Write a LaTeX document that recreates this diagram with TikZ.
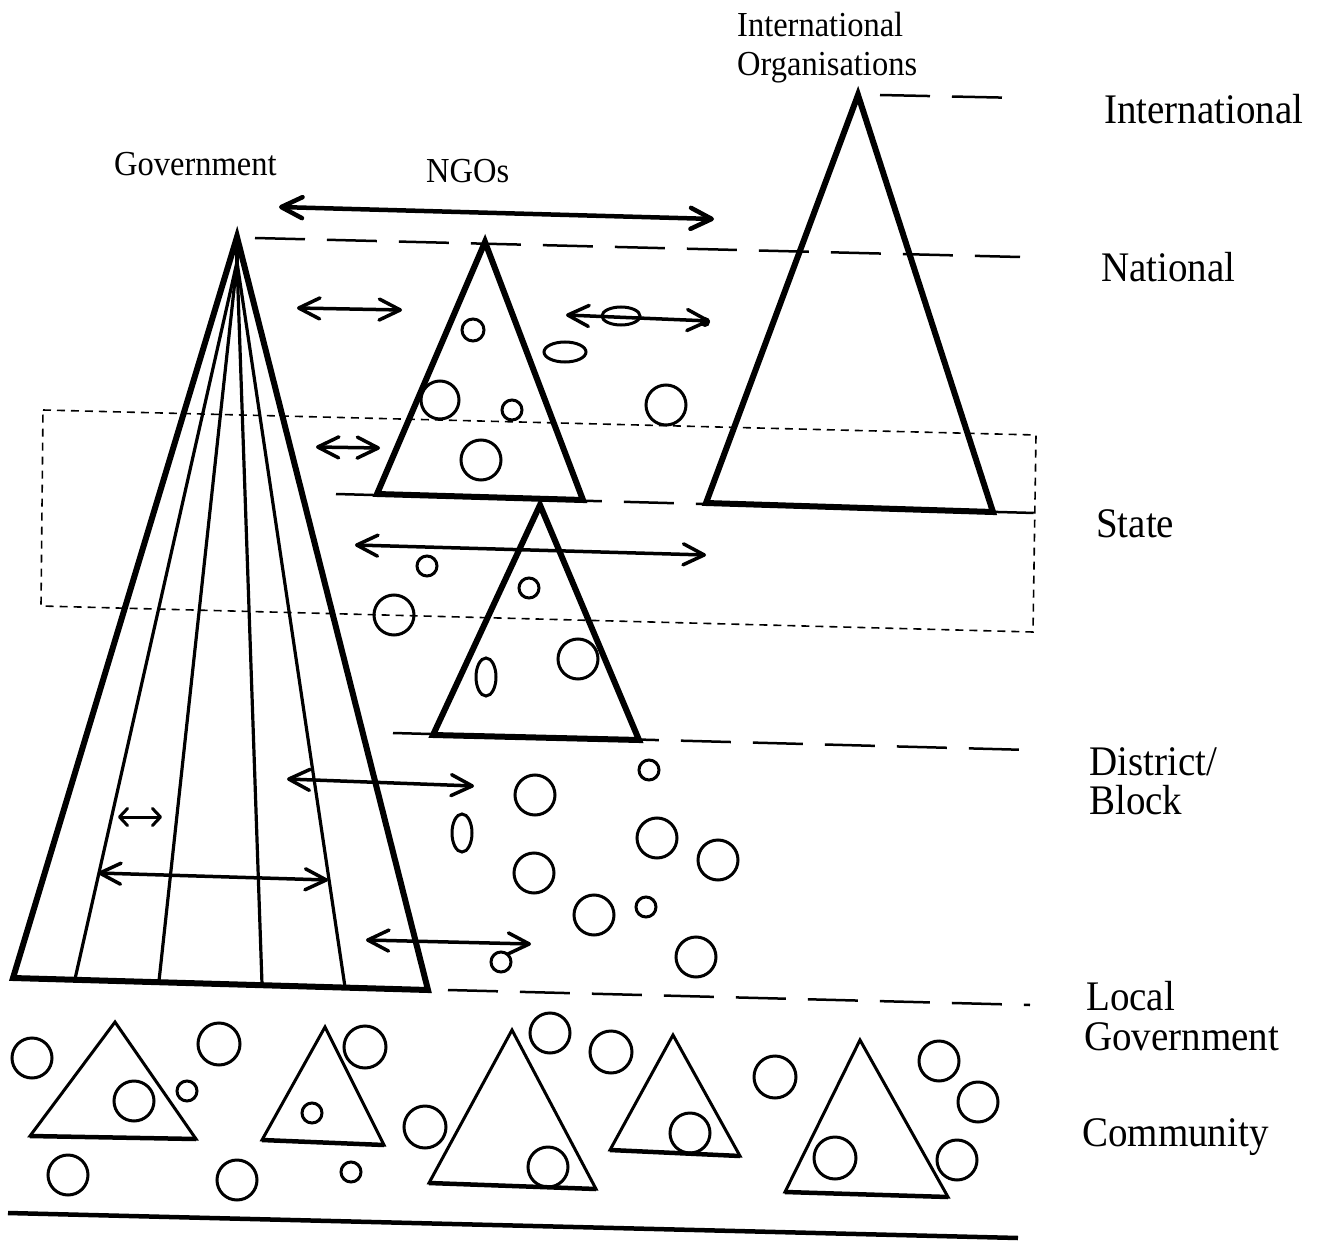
\documentclass[tikz,border=0pt]{standalone}
\usepackage{fontspec}
\setmainfont{Liberation Serif}
\usetikzlibrary{arrows.meta}

\tikzset{
  heavy/.style={line width=6pt, line join=miter, miter limit=6},
  rib/.style={line width=3.2pt},
  small tri/.style={line width=3pt, line join=miter, miter limit=6},
  tri base/.style={line width=4.5pt},
  bub/.style={line width=3pt},
  barb/.tip={Straight Barb[length=21pt,width=21pt,line cap=round,line join=round]},
  tinybarb/.tip={Straight Barb[length=8pt,width=17pt,line cap=round,line join=round]},
  link/.style={line width=3.5pt, line cap=round, {barb}-{barb}},
  biglink/.style={line width=4.5pt, line cap=round, {barb}-{barb}},
  tinylink/.style={line width=3pt, line cap=round, {tinybarb}-{tinybarb}},
  tier/.style={line width=2.5pt, dash pattern=on 50pt off 22pt},
  band/.style={line width=1.6pt, dash pattern=on 8pt off 6pt},
  groundline/.style={line width=4.5pt},
  actor/.style={font=\fontsize{32.5}{40}\selectfont, anchor=base west, inner sep=0pt},
  tierlabel/.style={font=\fontsize{39}{40}\selectfont, anchor=base west, inner sep=0pt},
}

\newcommand{\tall}[1]{\scalebox{1}[1.08]{#1}}

\begin{document}
\begin{tikzpicture}[x=1pt,y=-1pt]
\useasboundingbox (0,0) rectangle (1323,1241);

% ---- tier boundaries ----
\draw[tier] (880,95) -- (1022,98);
\draw[tier] (255,238) -- (1020,257);
\draw[tier] (336,494) -- (1035,513);
\draw[tier] (393,733) -- (1030,750);
\draw[tier] (448,990) -- (1030,1005);
\draw[groundline] (8,1213) -- (1018,1238);

% ---- state band ----
\draw[band] (43,410) -- (1036,435) -- (1033,632) -- (41,606) -- cycle;

% ---- government pyramid ----
\coordinate (gapex) at (237,237);
\coordinate (gfan) at (237,262);
\draw[rib] (gfan) -- (75,979);
\draw[rib] (gfan) -- (159,981);
\draw[rib] (gfan) -- (262,984);
\draw[rib] (gfan) -- (345,987);
\draw[rib] (gapex) -- (gfan);
\draw[heavy] (gapex) -- (13,978) -- (428,990) -- cycle;

% ---- NGO pyramids ----
\draw[heavy] (485,242) -- (377,494) -- (583,500) -- cycle;
\draw[heavy] (540,505) -- (433,735) -- (639,740) -- cycle;

% ---- international organisations ----
\draw[heavy] (858,95) -- (706,503) -- (993,512) -- cycle;

% ---- NGO bubbles, national and state ----
\draw[bub] (473,330) circle[radius=11];
\draw[bub] (440,400) circle[radius=19];
\draw[bub] (512,410) circle[radius=10];
\draw[bub] (481,460) circle[radius=20];
\draw[bub] (565,352) ellipse[x radius=21,y radius=10];
\draw[bub] (666,405) circle[radius=20];
\draw[bub] (529,588) circle[radius=10];
\draw[bub] (486,677) ellipse[x radius=10,y radius=19];
\draw[bub] (578,659) circle[radius=20];
\draw[bub] (427,566) circle[radius=10];
\draw[bub] (394,615) circle[radius=20];

% ---- NGO bubbles, district/block ----
\draw[bub] (535,795) circle[radius=20];
\draw[bub] (649,770) circle[radius=10];
\draw[bub] (462,833) ellipse[x radius=10,y radius=19];
\draw[bub] (657,838) circle[radius=20];
\draw[bub] (718,860) circle[radius=20];
\draw[bub] (534,873) circle[radius=20];
\draw[bub] (594,915) circle[radius=20];
\draw[bub] (646,907) circle[radius=10];
\draw[bub] (696,957) circle[radius=20];
\draw[bub] (501,962) circle[radius=10];

% ---- links ----
\coordinate (ngoL) at (279,207); \coordinate (ngoR) at (714,219);
\coordinate (gn1L) at (297,308); \coordinate (gn1R) at (402,310);
\coordinate (ni1L) at (566,315); \coordinate (ni1R) at (710,321);
\coordinate (gs1L) at (316,447); \coordinate (gs1R) at (380,448);
\coordinate (ss1L) at (355,545); \coordinate (ss1R) at (706,555);
\coordinate (gd1L) at (287,779); \coordinate (gd1R) at (474,786);
\coordinate (in1L) at (118,817); \coordinate (in1R) at (162,817);
\coordinate (in2L) at (98,873);  \coordinate (in2R) at (328,880);
\coordinate (gl1L) at (366,940); \coordinate (gl1R) at (531,944);

\draw[biglink] (ngoL) -- (ngoR);
\draw[link] (gn1L) -- (gn1R);
\draw[link] (ni1L) -- (ni1R);
\draw[bub] (621,316) ellipse[x radius=19,y radius=9];
\fill (705,322) circle[radius=5];
\draw[link] (gs1L) -- (gs1R);
\draw[link] (ss1L) -- (ss1R);
\draw[link] (gd1L) -- (gd1R);
\draw[tinylink] (in1L) -- (in1R);
\draw[link] (in2L) -- (in2R);
\draw[link] (gl1L) -- (gl1R);

% ---- community groups ----
\draw[small tri] (115,1022) -- (30,1136) -- (196,1139) -- cycle;
\draw[tri base] (30,1136) -- (196,1139);
\draw[small tri] (325,1027) -- (262,1140) -- (384,1145) -- cycle;
\draw[tri base] (262,1140) -- (384,1145);
\draw[small tri] (512,1030) -- (429,1183) -- (596,1189) -- cycle;
\draw[tri base] (429,1183) -- (596,1189);
\draw[small tri] (673,1035) -- (610,1150) -- (740,1156) -- cycle;
\draw[tri base] (610,1150) -- (740,1156);
\draw[small tri] (860,1040) -- (785,1192) -- (948,1197) -- cycle;
\draw[tri base] (785,1192) -- (948,1197);

\draw[bub] (134,1101) circle[radius=20];
\draw[bub] (187,1091) circle[radius=10];
\draw[bub] (32,1058) circle[radius=20];
\draw[bub] (219,1044) circle[radius=21];
\draw[bub] (68,1175) circle[radius=20];
\draw[bub] (237,1180) circle[radius=20];
\draw[bub] (351,1172) circle[radius=10];
\draw[bub] (312,1113) circle[radius=10];
\draw[bub] (365,1047) circle[radius=21];
\draw[bub] (548,1167) circle[radius=20];
\draw[bub] (425,1127) circle[radius=21];
\draw[bub] (550,1033) circle[radius=20];
\draw[bub] (611,1052) circle[radius=21];
\draw[bub] (690,1133) circle[radius=20];
\draw[bub] (835,1158) circle[radius=21];
\draw[bub] (775,1077) circle[radius=21];
\draw[bub] (939,1061) circle[radius=20];
\draw[bub] (978,1102) circle[radius=20];
\draw[bub] (957,1160) circle[radius=20];

% ---- actor labels ----
\node[actor] (lblIO1) at (737,37) {\tall{International}};
\node[actor] (lblIO2) at (737,76) {\tall{Organisations}};
\node[actor] (lblGov) at (114,176) {\tall{Government}};
\node[actor] (lblNGO) at (426,183) {\tall{NGOs}};

% ---- tier labels ----
\node[tierlabel] (tInt) at (1104,124) {\tall{International}};
\node[tierlabel] (tNat) at (1101,282) {\tall{National}};
\node[tierlabel] (tSta) at (1096,537) {\tall{State}};
\node[tierlabel] (tDis) at (1089,775) {\tall{District/}};
\node[tierlabel] (tBlo) at (1089,814) {\tall{Block}};
\node[tierlabel] (tLoc) at (1086,1010) {\tall{Local}};
\node[tierlabel] (tLgv) at (1084,1050) {\tall{Government}};
\node[tierlabel] (tCom) at (1082,1146) {\tall{Community}};
\end{tikzpicture}
\end{document}
